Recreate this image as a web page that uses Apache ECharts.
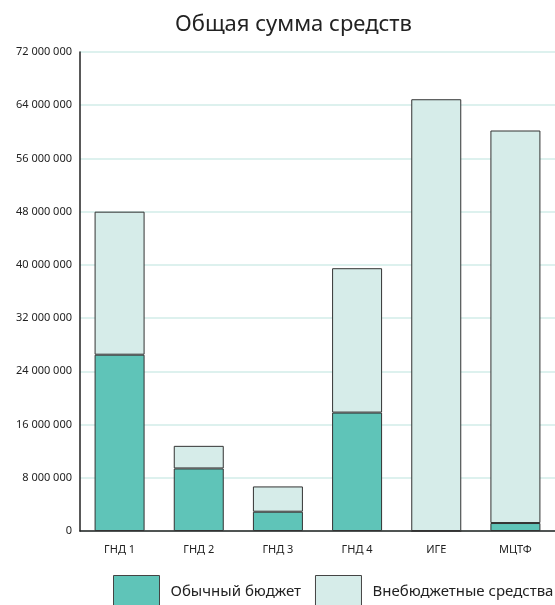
<!DOCTYPE html>
<html><head><meta charset="utf-8">
<script src="https://cdn.jsdelivr.net/npm/echarts@6/dist/echarts.min.js"></script>
<style>html,body{margin:0;padding:0;background:#fff}#c{width:555px;height:605px}</style>
</head><body><div id="c"></div>
<script>
const categories = ['ГНД 1','ГНД 2','ГНД 3','ГНД 4','ИГЕ','МЦТФ'];
const regularBudget = [26500000, 9400000, 2900000, 17800000, 0, 1200000];
const extraBudget = [21500000, 3400000, 3800000, 21700000, 64900000, 59000000];
const seriesNames = ['Обычный бюджет','Внебюджетные средства'];
const titleText = 'Общая сумма средств';

const fmt = v => String(v).replace(/\B(?=(\d{3})+(?!\d))/g, ' ');
const chart = echarts.init(document.getElementById('c'));
const font = 'Noto Sans';
chart.setOption({
  animation: false,
  title: { text: titleText, top: 14, left: 175, padding: 0,
    textStyle: { fontFamily: font, fontSize: 22, fontWeight: 'normal', color: '#222' } },
  grid: { left: 80, top: 52, width: 476, bottom: 74, containLabel: false },
  legend: {
    top: 575, left: 113, padding: 0, itemWidth: 46, itemHeight: 32, itemGap: 14, icon: 'rect',
    textStyle: { fontFamily: font, fontSize: 15, color: '#222', padding: [0,0,0,6] },
    itemStyle: { borderColor: '#444', borderWidth: 1 },
    data: seriesNames
  },
  xAxis: {
    type: 'category', data: categories,
    axisLine: { lineStyle: { color: '#222', width: 1.5 } },
    axisTick: { show: false },
    axisLabel: { fontFamily: font, fontSize: 11, color: '#222', margin: 13 }
  },
  yAxis: {
    type: 'value', min: 0, max: 72000000, interval: 8000000,
    axisLine: { show: true, lineStyle: { color: '#222', width: 1.5 } },
    axisTick: { show: false },
    splitLine: { lineStyle: { color: '#d2ece8', width: 1.5 } },
    axisLabel: { fontFamily: font, fontSize: 11, color: '#222', margin: 8, formatter: fmt }
  },
  series: [
    { name: seriesNames[0], type: 'bar', stack: 't', data: regularBudget, barWidth: 50,
      itemStyle: { color: '#5fc4b8', borderColor: '#333', borderWidth: 1 } },
    { name: seriesNames[1], type: 'bar', stack: 't', data: extraBudget, barWidth: 50,
      itemStyle: { color: '#d6ece9', borderColor: '#333', borderWidth: 1 } }
  ]
});
</script></body></html>
